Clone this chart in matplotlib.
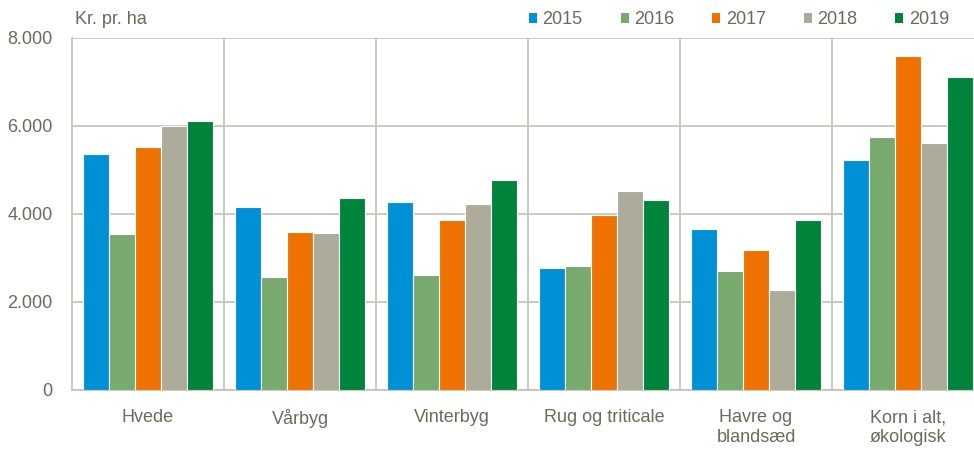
import matplotlib
matplotlib.use("Agg")
import matplotlib.pyplot as plt
import numpy as np
from matplotlib.patches import Patch

plt.rcParams['font.family'] = ['Liberation Sans', 'DejaVu Sans']

categories = ["Hvede", "Vårbyg", "Vinterbyg", "Rug og triticale", "Havre og\nblandsæd", "Korn i alt,\nøkologisk"]
years = ["2015", "2016", "2017", "2018", "2019"]
v2015 = [5360, 4165, 4275, 2780, 3660, 5220]
v2016 = [3545, 2575, 2625, 2820, 2710, 5755]
v2017 = [5515, 3590, 3855, 3985, 3175, 7600]
v2018 = [6005, 3560, 4225, 4525, 2280, 5625]
v2019 = [6115, 4355, 4780, 4325, 3865, 7105]
series = [v2015, v2016, v2017, v2018, v2019]
colors = ["#0090D6", "#78A96F", "#EE7203", "#ADAB9A", "#00843C"]
yticks = [0, 2000, 4000, 6000, 8000]
yticklabels = ["0", "2.000", "4.000", "6.000", "8.000"]

text_color = "#6B6B5B"
grid_color = "#C2C1B3"

fig = plt.figure(figsize=(9.74, 4.5), dpi=100)
ax = fig.add_axes([72/974, 60/450, 912/974, 352/450])

x = np.arange(1, len(categories) + 1)
w = 0.1706
for i, (vals, c, yr) in enumerate(zip(series, colors, years)):
    ax.bar(x + (i - 2) * w, vals, width=w, color=c, edgecolor="white",
           linewidth=0.8, zorder=3, label=yr)

ax.set_xlim(0.5, 6.5)
ax.set_ylim(0, 8000)
ax.set_yticks(yticks)
ax.set_yticklabels(yticklabels)
ax.set_xticks(x)
ax.set_xticklabels(categories, linespacing=1.2)
ax.tick_params(axis='both', length=0, labelsize=13, colors=text_color)
ax.tick_params(axis='y', pad=14)
ax.tick_params(axis='x', pad=14)

ax.yaxis.grid(True, color=grid_color, linewidth=1.2, zorder=0)
for b in np.arange(1.5, 6.5, 1.0):
    ax.axvline(b, color=grid_color, linewidth=1.2, zorder=0)

for s in ['top', 'right']:
    ax.spines[s].set_visible(False)
for s in ['left', 'bottom']:
    ax.spines[s].set_color(grid_color)
    ax.spines[s].set_linewidth(1.2)

fig.text(75/974, 1 - 20/450, "Kr. pr. ha", fontsize=13, color=text_color,
         ha='left', va='center')

handles = [Patch(facecolor=c, edgecolor='none') for c in colors]
leg = fig.legend(handles, years, loc='center left', bbox_to_anchor=(529/974, 1 - 20/450),
                 ncol=5, frameon=False, fontsize=13, handlelength=0.45, handleheight=0.45,
                 handletextpad=0.3, columnspacing=2.1, borderaxespad=0, borderpad=0)
for t in leg.get_texts():
    t.set_color(text_color)

fig.savefig("out.png", dpi=100)
